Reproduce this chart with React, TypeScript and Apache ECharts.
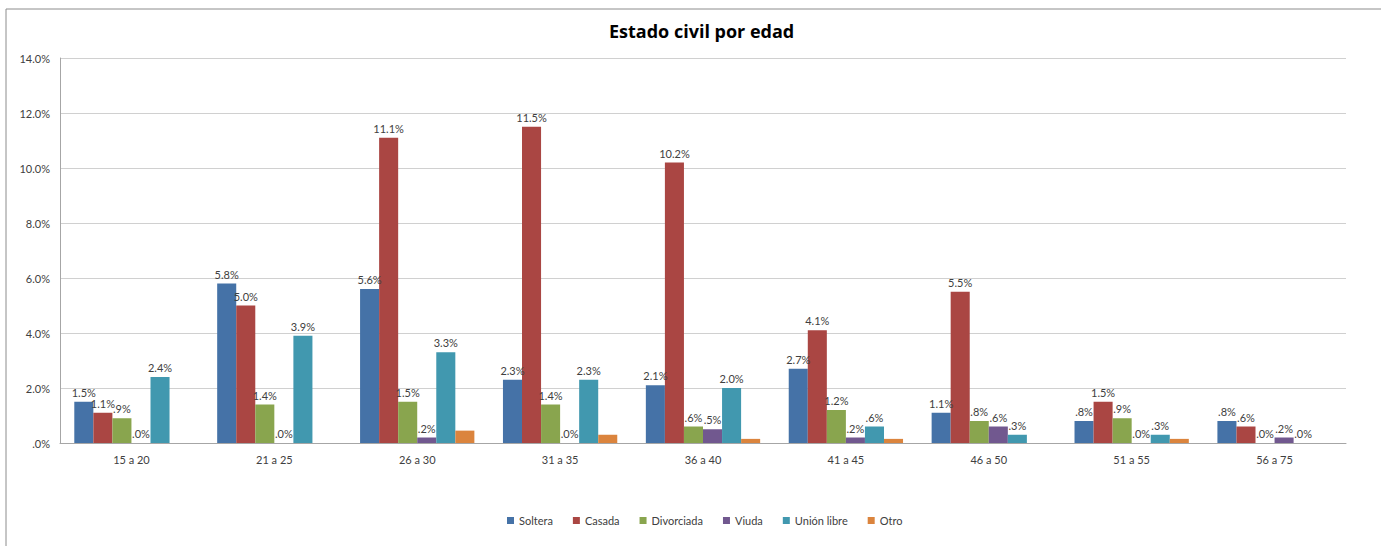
import React, { useEffect, useRef } from "react";
import * as echarts from "echarts";

const categories = ["15 a 20", "21 a 25", "26 a 30", "31 a 35", "36 a 40", "41 a 45", "46 a 50", "51 a 55", "56 a 75"];
const seriesNames = ["Soltera", "Casada", "Divorciada", "Viuda", "Unión libre", "Otro"];
const soltera = [1.5, 5.8, 5.6, 2.3, 2.1, 2.7, 1.1, 0.8, 0.8];
const casada = [1.1, 5.0, 11.1, 11.5, 10.2, 4.1, 5.5, 1.5, 0.6];
const divorciada = [0.9, 1.4, 1.5, 1.4, 0.6, 1.2, 0.8, 0.9, 0.0];
const viuda = [0.0, 0.0, 0.2, 0.0, 0.5, 0.2, 0.6, 0.0, 0.2];
const unionLibre = [2.4, 3.9, 3.3, 2.3, 2.0, 0.6, 0.3, 0.3, 0.0];
const otro = [0, 0, 0.45, 0.3, 0.15, 0.15, 0, 0.15, 0];
const colors = ["#4572A7", "#AA4643", "#89A54E", "#71588F", "#4198AF", "#DB843D"];
const showLabels = [true, true, true, true, true, false];

const fmt = (v: number) => {
  const s = v.toFixed(1);
  return (s.startsWith("0.") ? s.slice(1) : s) + "%";
};

export default function App() {
  const ref = useRef<HTMLDivElement>(null);
  useEffect(() => {
    const chart = echarts.init(ref.current!, null, { renderer: "svg" });
    const all = [soltera, casada, divorciada, viuda, unionLibre, otro];
    const font = "'Open Sans', sans-serif";
    const small = "Lato, 'Open Sans', sans-serif";
    chart.setOption({
      animation: false,
      backgroundColor: "#ffffff",
      title: {
        text: "Estado civil por edad",
        left: 604,
        top: 17,
        textStyle: { fontFamily: font, fontSize: 18, fontWeight: "bold", color: "#000" },
      },
      graphic: [
        {
          type: "rect",
          shape: { x: 6, y: 9, width: 1390, height: 560 },
          style: { fill: "none", stroke: "#8c8c8c", lineWidth: 1 },
          silent: true,
        },
      ],
      legend: {
        top: 510,
        left: 502,
        itemWidth: 7,
        itemHeight: 7,
        itemGap: 20,
        icon: "rect",
        textStyle: { fontFamily: small, fontSize: 11, color: "#404040" },
        data: seriesNames,
      },
      grid: { left: 60, right: 35, top: 58, bottom: 103 },
      xAxis: {
        type: "category",
        data: categories,
        axisTick: { show: false },
        axisLine: { lineStyle: { color: "#a6a6a6" } },
        axisLabel: { fontFamily: small, fontSize: 11, color: "#404040", margin: 11 },
      },
      yAxis: {
        type: "value",
        min: 0,
        max: 14,
        interval: 2,
        axisLine: { show: true, lineStyle: { color: "#a6a6a6" } },
        axisTick: { show: false },
        splitLine: { lineStyle: { color: "#d0d0d0" } },
        axisLabel: {
          fontFamily: small,
          fontSize: 11,
          color: "#404040",
          margin: 10,
          formatter: (v: number) => (v === 0 ? ".0%" : v.toFixed(1) + "%"),
        },
      },
      series: seriesNames.map((name, i) => ({
        name,
        type: "bar",
        data: all[i],
        barGap: "0%",
        barCategoryGap: "20%",
        itemStyle: { color: colors[i] },
        label: {
          show: showLabels[i],
          position: "top",
          distance: 4,
          fontFamily: small,
          fontSize: 11,
          color: "#404040",
          formatter: (p: any) => fmt(p.value),
        },
      })),
      color: colors,
    });
    return () => chart.dispose();
  }, []);
  return <div ref={ref} style={{ position: "fixed", left: 0, top: 0, width: 1381, height: 546 }} />;
}
